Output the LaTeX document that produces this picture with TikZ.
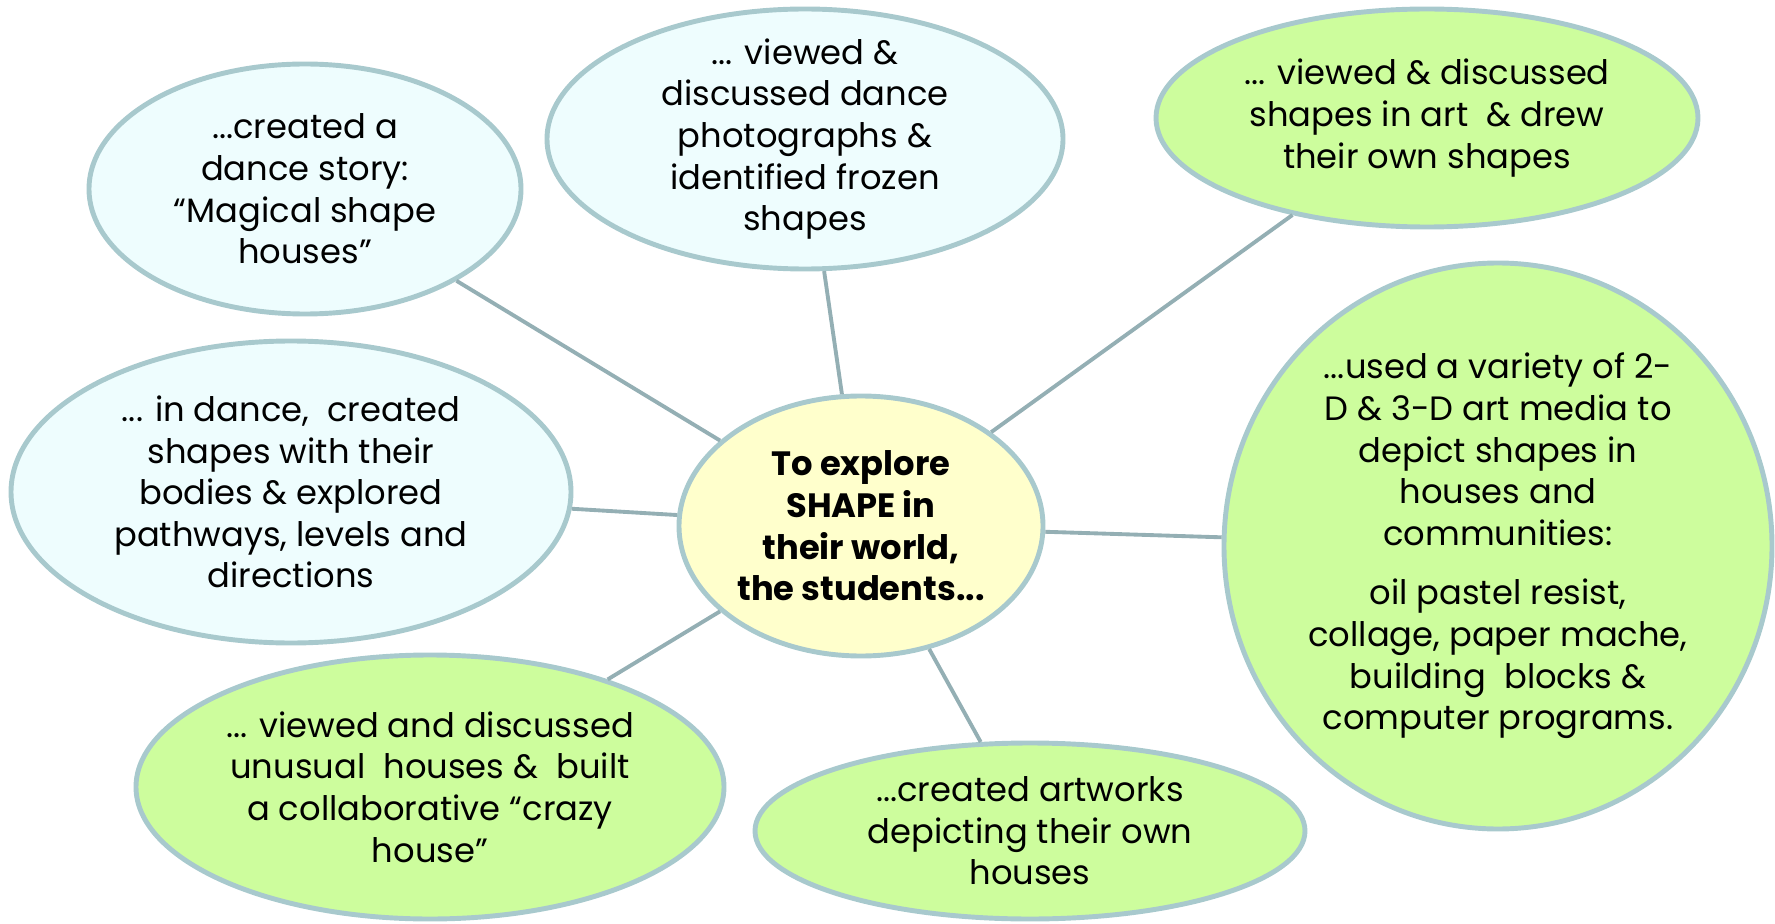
\documentclass[tikz,border=0pt]{standalone}
\usepackage{fontspec}
\setmainfont{Poppins}
\usetikzlibrary{shapes.geometric}

\definecolor{rim}{HTML}{A8C9CD}
\definecolor{spoke}{HTML}{94AFB4}
\definecolor{pale}{HTML}{EEFDFE}
\definecolor{lime}{HTML}{CDFD9D}
\definecolor{cream}{HTML}{FFFFCC}

\begin{document}
\begin{tikzpicture}[
  bubble/.style={ellipse,draw=rim,line width=2.8pt,inner sep=0pt},
  words/.style={align=center,font=\fontsize{19.2}{23.7}\selectfont},
  hubwords/.style={align=center,font=\fontsize{19.2}{23.7}\selectfont\bfseries},
  spokeline/.style={draw=spoke,line width=2.2pt}]
\useasboundingbox (0,0) rectangle (35.5,18.46);

% the hub
\node[bubble,fill=cream,minimum width=7.28cm,minimum height=5.2cm,
  label={[hubwords]center:{To explore\\SHAPE in\\their world,\\the students...}}] (hub) at (17.22,7.94) {};

% dance bubbles
\node[bubble,fill=pale,minimum width=8.64cm,minimum height=5cm,
  label={[words]center:{...created a\\dance story:\\“Magical shape\\houses”}}] (story) at (6.1,14.68) {};
\node[bubble,fill=pale,minimum width=10.32cm,minimum height=5.2cm,
  label={[words]center:{... viewed \&\\discussed dance\\photographs \&\\identified frozen\\shapes}}] (photos) at (16.1,15.68) {};
\node[bubble,fill=pale,minimum width=11.2cm,minimum height=6.04cm,
  label={[words]center:{... in dance, \ created\\shapes with their\\bodies \& explored\\pathways, levels and\\directions}}] (bodies) at (5.82,8.62) {};

% art bubbles
\node[bubble,fill=lime,minimum width=10.84cm,minimum height=4.36cm,
  label={[words]center:{... viewed \& discussed\\shapes in art \ \& drew\\their own shapes}}] (art) at (28.54,16.1) {};
\node[bubble,fill=lime,minimum width=10.96cm,minimum height=11.32cm,
  label={[words]center:{...used a variety of 2-\\D \& 3-D art media to\\depict shapes in\\houses and\\communities:\\[0.36cm]oil pastel resist,\\collage, paper mache,\\building \ blocks \&\\computer programs.}}] (media) at (29.96,7.54) {};
\node[bubble,fill=lime,minimum width=11.76cm,minimum height=5.28cm,
  label={[words]center:{... viewed and discussed\\unusual \ houses \& \ built\\a collaborative “crazy\\house”}}] (crazy) at (8.6,2.72) {};
\node[bubble,fill=lime,minimum width=11cm,minimum height=3.52cm,
  label={[words]center:{...created artworks\\depicting their own\\houses}}] (artworks) at (20.6,1.84) {};

% spokes
\draw[spokeline] (hub) -- (story);
\draw[spokeline] (hub) -- (photos);
\draw[spokeline] (hub) -- (art);
\draw[spokeline] (hub) -- (bodies);
\draw[spokeline] (hub) -- (media);
\draw[spokeline] (hub) -- (crazy);
\draw[spokeline] (hub) -- (artworks);

\end{tikzpicture}
\end{document}
